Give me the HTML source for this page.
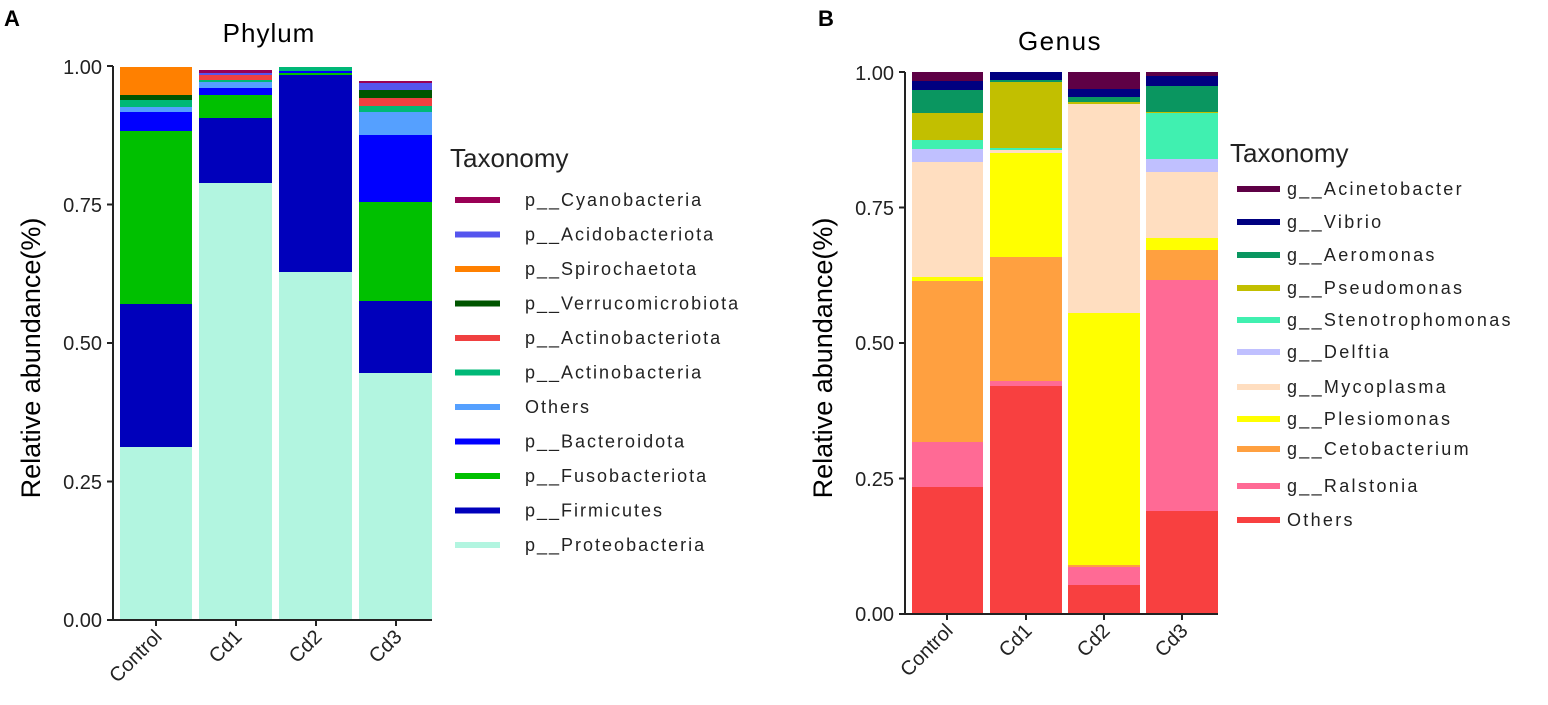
<!DOCTYPE html>
<html><head><meta charset="utf-8"><style>
html,body{margin:0;padding:0;background:#fff;}
svg{display:block;font-family:"Liberation Sans",Arial,sans-serif;}
.t{font-size:20px;fill:#222;}
.lg{font-size:18px;fill:#222;letter-spacing:2px;}
.lgb{font-size:18px;fill:#222;letter-spacing:2.3px;}
</style></head><body>
<svg width="1548" height="705" viewBox="0 0 1548 705">
<text x="4" y="26" font-size="22" font-weight="bold">A</text>
<text x="818" y="26" font-size="22" font-weight="bold">B</text>
<text x="269" y="42" font-size="26" text-anchor="middle" letter-spacing="1">Phylum</text>
<text x="1060" y="50" font-size="26" text-anchor="middle" letter-spacing="1.5">Genus</text>
<text transform="translate(40,358) rotate(-90)" font-size="27" text-anchor="middle">Relative abundance(%)</text>
<text transform="translate(832,358) rotate(-90)" font-size="27" text-anchor="middle">Relative abundance(%)</text>

<g shape-rendering="crispEdges">
<rect x="120" y="447" width="72" height="173" fill="#B2F5E0"/>
<rect x="120" y="304" width="72" height="143" fill="#0000BB"/>
<rect x="120" y="131" width="72" height="173" fill="#00C000"/>
<rect x="120" y="112" width="72" height="19" fill="#0000FF"/>
<rect x="120" y="107" width="72" height="5" fill="#55A0FF"/>
<rect x="120" y="100" width="72" height="7" fill="#00B877"/>
<rect x="120" y="95" width="72" height="5" fill="#005500"/>
<rect x="120" y="67" width="72" height="28" fill="#FF8000"/>
<rect x="199" y="183" width="73" height="437" fill="#B2F5E0"/>
<rect x="199" y="118" width="73" height="65" fill="#0000BB"/>
<rect x="199" y="95" width="73" height="23" fill="#00C000"/>
<rect x="199" y="88" width="73" height="7" fill="#0000FF"/>
<rect x="199" y="82" width="73" height="6" fill="#55A0FF"/>
<rect x="199" y="80" width="73" height="2" fill="#00B877"/>
<rect x="199" y="75" width="73" height="5" fill="#F04040"/>
<rect x="199" y="73" width="73" height="2" fill="#5555EE"/>
<rect x="199" y="70" width="73" height="3" fill="#990055"/>
<rect x="279" y="272" width="73" height="348" fill="#B2F5E0"/>
<rect x="279" y="75" width="73" height="197" fill="#0000BB"/>
<rect x="279" y="73" width="73" height="2" fill="#00C000"/>
<rect x="279" y="71" width="73" height="2" fill="#0000FF"/>
<rect x="279" y="67" width="73" height="4" fill="#00B877"/>
<rect x="359" y="373" width="73" height="247" fill="#B2F5E0"/>
<rect x="359" y="301" width="73" height="72" fill="#0000BB"/>
<rect x="359" y="202" width="73" height="99" fill="#00C000"/>
<rect x="359" y="135" width="73" height="67" fill="#0000FF"/>
<rect x="359" y="112" width="73" height="23" fill="#55A0FF"/>
<rect x="359" y="106" width="73" height="6" fill="#00B877"/>
<rect x="359" y="98" width="73" height="8" fill="#F04040"/>
<rect x="359" y="90" width="73" height="8" fill="#005500"/>
<rect x="359" y="83" width="73" height="7" fill="#5555EE"/>
<rect x="359" y="81" width="73" height="2" fill="#990055"/>
</g>
<g stroke="#222" stroke-width="2" fill="none">
<path d="M113 66 V620 H432"/>
<path d="M107 66 H113 M107 204.5 H113 M107 343 H113 M107 481.5 H113 M107 620 H113"/>
<path d="M156 620 V626 M236 620 V626 M316 620 V626 M396 620 V626"/>
</g>
<g class="t" text-anchor="end">
<text x="102" y="74">1.00</text><text x="102" y="212">0.75</text><text x="102" y="350">0.50</text><text x="102" y="489">0.25</text><text x="102" y="627">0.00</text>
<text transform="translate(163,638) rotate(-45)">Control</text>
<text transform="translate(243,638) rotate(-45)">Cd1</text>
<text transform="translate(323,638) rotate(-45)">Cd2</text>
<text transform="translate(403,638) rotate(-45)">Cd3</text>
</g>
<text x="450" y="167" font-size="26" fill="#222">Taxonomy</text>
<g stroke-width="6">
<line x1="455" x2="500" y1="200" y2="200" stroke="#990055"/>
<line x1="455" x2="500" y1="234.5" y2="234.5" stroke="#5555EE"/>
<line x1="455" x2="500" y1="269" y2="269" stroke="#FF8000"/>
<line x1="455" x2="500" y1="303.5" y2="303.5" stroke="#005500"/>
<line x1="455" x2="500" y1="338" y2="338" stroke="#F04040"/>
<line x1="455" x2="500" y1="372.5" y2="372.5" stroke="#00B877"/>
<line x1="455" x2="500" y1="407" y2="407" stroke="#55A0FF"/>
<line x1="455" x2="500" y1="441.5" y2="441.5" stroke="#0000FF"/>
<line x1="455" x2="500" y1="476" y2="476" stroke="#00C000"/>
<line x1="455" x2="500" y1="510.5" y2="510.5" stroke="#0000BB"/>
<line x1="455" x2="500" y1="545" y2="545" stroke="#B2F5E0"/>
</g>
<g class="lg">
<text x="525" y="206">p__Cyanobacteria</text>
<text x="525" y="240.5">p__Acidobacteriota</text>
<text x="525" y="275">p__Spirochaetota</text>
<text x="525" y="309.5">p__Verrucomicrobiota</text>
<text x="525" y="344">p__Actinobacteriota</text>
<text x="525" y="378.5">p__Actinobacteria</text>
<text x="525" y="413">Others</text>
<text x="525" y="447.5">p__Bacteroidota</text>
<text x="525" y="482">p__Fusobacteriota</text>
<text x="525" y="516.5">p__Firmicutes</text>
<text x="525" y="551">p__Proteobacteria</text>
</g>

<g shape-rendering="crispEdges">
<rect x="912" y="487" width="71" height="127" fill="#F84040"/>
<rect x="912" y="442" width="71" height="45" fill="#FF6A95"/>
<rect x="912" y="281" width="71" height="161" fill="#FFA040"/>
<rect x="912" y="277" width="71" height="4" fill="#FFFF00"/>
<rect x="912" y="162" width="71" height="115" fill="#FFDEC0"/>
<rect x="912" y="149" width="71" height="13" fill="#C0C0FF"/>
<rect x="912" y="140" width="71" height="9" fill="#40F0B0"/>
<rect x="912" y="113" width="71" height="27" fill="#C2BF00"/>
<rect x="912" y="90" width="71" height="23" fill="#0A9660"/>
<rect x="912" y="81" width="71" height="9" fill="#000080"/>
<rect x="912" y="72" width="71" height="9" fill="#5E0045"/>
<rect x="990" y="386" width="72" height="228" fill="#F84040"/>
<rect x="990" y="381" width="72" height="5" fill="#FF6A95"/>
<rect x="990" y="257" width="72" height="124" fill="#FFA040"/>
<rect x="990" y="153" width="72" height="104" fill="#FFFF00"/>
<rect x="990" y="150" width="72" height="3" fill="#FFDEC0"/>
<rect x="990" y="148" width="72" height="2" fill="#40F0B0"/>
<rect x="990" y="82" width="72" height="66" fill="#C2BF00"/>
<rect x="990" y="80" width="72" height="2" fill="#0A9660"/>
<rect x="990" y="72" width="72" height="8" fill="#000080"/>
<rect x="1068" y="585" width="72" height="29" fill="#F84040"/>
<rect x="1068" y="567" width="72" height="18" fill="#FF6A95"/>
<rect x="1068" y="565" width="72" height="2" fill="#FFA040"/>
<rect x="1068" y="313" width="72" height="252" fill="#FFFF00"/>
<rect x="1068" y="104" width="72" height="209" fill="#FFDEC0"/>
<rect x="1068" y="102" width="72" height="2" fill="#C2BF00"/>
<rect x="1068" y="97" width="72" height="5" fill="#0A9660"/>
<rect x="1068" y="89" width="72" height="8" fill="#000080"/>
<rect x="1068" y="72" width="72" height="17" fill="#5E0045"/>
<rect x="1146" y="511" width="72" height="103" fill="#F84040"/>
<rect x="1146" y="280" width="72" height="231" fill="#FF6A95"/>
<rect x="1146" y="250" width="72" height="30" fill="#FFA040"/>
<rect x="1146" y="238" width="72" height="12" fill="#FFFF00"/>
<rect x="1146" y="172" width="72" height="66" fill="#FFDEC0"/>
<rect x="1146" y="159" width="72" height="13" fill="#C0C0FF"/>
<rect x="1146" y="113" width="72" height="46" fill="#40F0B0"/>
<rect x="1146" y="112" width="72" height="1" fill="#C2BF00"/>
<rect x="1146" y="86" width="72" height="26" fill="#0A9660"/>
<rect x="1146" y="76" width="72" height="10" fill="#000080"/>
<rect x="1146" y="72" width="72" height="4" fill="#5E0045"/>
</g>
<g stroke="#222" stroke-width="2" fill="none">
<path d="M905 72 V614 H1218"/>
<path d="M899 72 H905 M899 207.5 H905 M899 343 H905 M899 478.5 H905 M899 614 H905"/>
<path d="M947 614 V620 M1026 614 V620 M1104 614 V620 M1182 614 V620"/>
</g>
<g class="t" text-anchor="end">
<text x="894" y="80">1.00</text><text x="894" y="215">0.75</text><text x="894" y="350">0.50</text><text x="894" y="486">0.25</text><text x="894" y="621">0.00</text>
<text transform="translate(954,632) rotate(-45)">Control</text>
<text transform="translate(1033,632) rotate(-45)">Cd1</text>
<text transform="translate(1111,632) rotate(-45)">Cd2</text>
<text transform="translate(1189,632) rotate(-45)">Cd3</text>
</g>
<text x="1230" y="162" font-size="26" fill="#222">Taxonomy</text>
<g stroke-width="6">
<line x1="1237" x2="1280" y1="189" y2="189" stroke="#5E0045"/>
<line x1="1237" x2="1280" y1="222" y2="222" stroke="#000080"/>
<line x1="1237" x2="1280" y1="255" y2="255" stroke="#0A9660"/>
<line x1="1237" x2="1280" y1="288" y2="288" stroke="#C2BF00"/>
<line x1="1237" x2="1280" y1="320" y2="320" stroke="#40F0B0"/>
<line x1="1237" x2="1280" y1="352" y2="352" stroke="#C0C0FF"/>
<line x1="1237" x2="1280" y1="387" y2="387" stroke="#FFDEC0"/>
<line x1="1237" x2="1280" y1="419" y2="419" stroke="#FFFF00"/>
<line x1="1237" x2="1280" y1="449" y2="449" stroke="#FFA040"/>
<line x1="1237" x2="1280" y1="486" y2="486" stroke="#FF6A95"/>
<line x1="1237" x2="1280" y1="520" y2="520" stroke="#F84040"/>
</g>
<g class="lgb">
<text x="1287" y="195">g__Acinetobacter</text>
<text x="1287" y="228">g__Vibrio</text>
<text x="1287" y="261">g__Aeromonas</text>
<text x="1287" y="294">g__Pseudomonas</text>
<text x="1287" y="326">g__Stenotrophomonas</text>
<text x="1287" y="358">g__Delftia</text>
<text x="1287" y="393">g__Mycoplasma</text>
<text x="1287" y="425">g__Plesiomonas</text>
<text x="1287" y="455">g__Cetobacterium</text>
<text x="1287" y="492">g__Ralstonia</text>
<text x="1287" y="526">Others</text>
</g>
</svg>
</body></html>
